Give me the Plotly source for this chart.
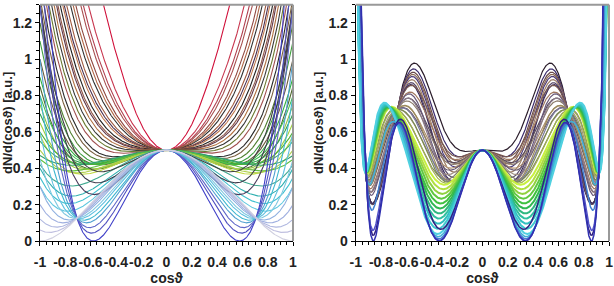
import numpy as np
import plotly.graph_objects as go

X_TICKS = [-1, -0.8, -0.6, -0.4, -0.2, 0, 0.2, 0.4, 0.6, 0.8, 1]
X_TICKTEXT = ["-1", "-0.8", "-0.6", "-0.4", "-0.2", "0", "0.2", "0.4", "0.6", "0.8", "1"]
Y_TICKS = [0, 0.2, 0.4, 0.6, 0.8, 1.0, 1.2]
Y_TICKTEXT = ["0", "0.2", "0.4", "0.6", "0.8", "1", "1.2"]

# Left panel curves: dN/dcos = 0.5 + a2*cos^2 + a4*cos^4 (coefficients)
LEFT_A2 = [3.6, 2.0, 1.6, 1.4, 1.1, 0.95, 0.8, 0.6, 0.5, 0.4, 0.25, 0.15, 0.1, 0.0, -0.1, -0.2, -0.3, -0.45, -0.5,
           -0.55, -0.6, -0.6, -0.55, -0.65, -0.5, -0.6, -0.45, -0.55, -0.4, -0.6, -0.35, -0.5, -0.3, -0.4, -0.7, -0.9,
           -1.0, -1.1, -1.2, -0.9, -1.5,
           -3.0, -2.6, -2.3, -2.0, -1.8, -1.6, -1.45, -1.3, -1.2, -1.12, -1.06, -1.0]
LEFT_A4 = [-1.6, 0.21, 0.54, 0.71, 0.86, 0.93, 1.01, 1.09, 1.10, 1.17, 1.25, 1.26, 1.26, 1.275, 1.29, 1.30, 1.315,
           1.38, 1.34,
           1.25, 1.2, 1.1, 0.95, 1.0, 0.8, 0.85, 0.65, 0.7, 0.5, 0.68, 0.4, 0.5, 0.27, 0.35, 0.62, 0.8, 0.85, 0.9,
           2.0, 1.7, 2.3,
           4.5, 3.7, 3.1, 2.5, 2.1, 1.7, 1.4, 1.1, 0.9, 0.74, 0.62, 0.5]
LEFT_COLORS = ["#d0103a", "#c83850", "#b04050", "#a85050", "#904840", "#b06848", "#303030", "#a05a40", "#4a3050",
               "#c07a50", "#202020", "#905848", "#603848", "#b07040", "#383838", "#6a7a30", "#a05050", "#2a2a2a",
               "#7a6040",
               "#508030", "#40a040", "#6a5a3a", "#30b040", "#506a30", "#40c050", "#90c040", "#30a050", "#a0d040",
               "#50b030", "#c0d840", "#40b060", "#b0d050", "#30a070", "#60c040", "#40a890", "#30b0b0", "#40c0d0",
               "#60c8e0", "#3a3a4a", "#404040", "#4a3a5a",
               "#4040c8", "#5050c0", "#6068c8", "#50a0d0", "#40b8d0", "#60c0e0", "#80c8e0", "#90b0e0", "#a0b0e0",
               "#b0b8e0", "#c0c0e0", "#d0d0e0"]

# Right panel: five template shapes, polynomial coefficients in cos^2 (powers 0..7)
T_DARK = [0.50000, -0.99439, 34.23566, -120.41098, 97.57349, 127.85042, -247.51954, 111.08576]
T_PURPLE = [0.49999, -7.11355, 91.95343, -378.03785, 747.79905, -793.43647, 427.73407, -87.24835]
T_YELLOW = [0.50000, -5.06589, 43.97404, -145.28679, 253.44306, -224.29634, 62.64206, 16.40268]
T_CYAN = [0.50000, -8.62865, 49.65036, -77.49864, -71.74711, 388.96553, -473.45951, 194.53321]
T_BLUE = [0.50000, -10.00000, 61.66667, -116.66667, 68.05556, 0.0, 0.0, 0.0]

# mixture weights of each right-panel curve over (dark, purple, yellow, cyan, blue)
RIGHT_W = [
    [1, 0, 0, 0, 0], [0.75, 0.25, 0, 0, 0], [0.6, 0.4, 0, 0, 0], [0.5, 0.5, 0, 0, 0], [0.4, 0.6, 0, 0, 0],
    [0.25, 0.75, 0, 0, 0], [0.1, 0.9, 0, 0, 0], [0, 1, 0, 0, 0],
    [0.7, 0, 0.3, 0, 0], [0.6, 0, 0.4, 0, 0], [0.5, 0, 0.5, 0, 0], [0.45, 0, 0.55, 0, 0], [0.35, 0, 0.65, 0, 0],
    [0.3, 0, 0.7, 0, 0], [0.2, 0, 0.8, 0, 0], [0.1, 0, 0.9, 0, 0],
    [0, 0.8, 0.2, 0, 0], [0, 0.7, 0.3, 0, 0], [0, 0.5, 0.5, 0, 0], [0, 0.4, 0.6, 0, 0], [0, 0.3, 0.7, 0, 0],
    [0, 0.15, 0.85, 0, 0], [0, 0, 1, 0, 0],
    [0, 0, 0.9, 0.1, 0], [0, 0, 0.8, 0.2, 0], [0, 0, 0.7, 0.3, 0], [0, 0, 0.6, 0.4, 0], [0, 0, 0.5, 0.5, 0],
    [0, 0, 0.4, 0.6, 0], [0, 0, 0.3, 0.7, 0], [0, 0, 0.2, 0.8, 0], [0, 0, 0.1, 0.9, 0], [0, 0, 0, 1, 0],
    [0, 0, 0, 0.6, 0.4], [0, 0, 0, 0.3, 0.7], [0, 0.15, 0, 0, 0.85], [0, 0, 0, 0.1, 0.9], [0, 0, 0, 0, 1],
]
RIGHT_COLORS = ["#2b1d2b", "#3c2c6c", "#6a4a4a", "#8a6a55", "#4a3a7a", "#a08068", "#5a4a6a", "#3a2a5a",
                "#7a5a50", "#a07860", "#5a4a5a", "#8b7b6b", "#b09070", "#6a5a70", "#a09080", "#80806a",
                "#6a5a7a", "#8a7a8a", "#9a8a5a", "#7a7a9a", "#7a8a50", "#a0b050", "#c8f040",
                "#b0e040", "#90d040", "#60c840", "#40c040", "#30b850", "#30b880", "#30c0a0", "#30c0c0", "#40c8d0",
                "#50d0e0",
                "#40b0d8", "#4080d0", "#302080", "#5050c8", "#3030b0"]
RIGHT_WIDTHS = [1.2] * 22 + [2.0] * 11 + [1.5] * 5

TEMPLATES = np.array([T_DARK, T_PURPLE, T_YELLOW, T_CYAN, T_BLUE])

xs = np.linspace(-1, 1, 801)
us = xs * xs

fig = go.Figure()
for a2, a4, c in zip(LEFT_A2, LEFT_A4, LEFT_COLORS):
    fig.add_trace(go.Scatter(x=xs, y=0.5 + a2 * us + a4 * us ** 2, mode="lines",
                             line=dict(color=c, width=1.1), xaxis="x", yaxis="y", hoverinfo="skip"))
for wts, c, w in zip(RIGHT_W, RIGHT_COLORS, RIGHT_WIDTHS):
    coef = np.array(wts) @ TEMPLATES
    fig.add_trace(go.Scatter(x=xs, y=np.polynomial.polynomial.polyval(us, coef), mode="lines",
                             line=dict(color=c, width=w), xaxis="x2", yaxis="y2", hoverinfo="skip"))

FONT = "Liberation Sans, Arial, sans-serif"
ax_common = dict(range=[-1, 1], tickmode="array", tickvals=X_TICKS, ticktext=X_TICKTEXT, showline=True,
                 linecolor="black", linewidth=1, ticks="outside", ticklen=4, tickcolor="black", showgrid=False,
                 zeroline=False, tickfont=dict(family=FONT, size=14, color="#222", weight="bold"),
                 ticklabelstandoff=4, tickangle=0, automargin=False,
                 minor=dict(ticks="outside", ticklen=3, tickmode="linear", tick0=0, dtick=0.05,
                            tickcolor="black"),
                 title=dict(text="cosϑ", font=dict(family=FONT, size=14, color="#222", weight="bold"), standoff=7))
ay_common = dict(range=[0, 1.3], tickmode="array", tickvals=Y_TICKS, ticktext=Y_TICKTEXT, showline=True,
                 linecolor="black", linewidth=1, ticks="outside", ticklen=4, tickcolor="black", showgrid=False,
                 zeroline=False, tickfont=dict(family=FONT, size=14, color="#222", weight="bold"),
                 automargin=False,
                 minor=dict(ticks="outside", ticklen=3, tickmode="linear", tick0=0, dtick=0.05,
                            tickcolor="black"),
                 title=dict(text="dN/d(cosϑ) [a.u.]", font=dict(family=FONT, size=13, color="#222", weight="bold"),
                            standoff=1))
YDOM = [0.1573, 0.9836]
fig.update_layout(
    width=614, height=286, margin=dict(l=0, r=0, t=0, b=0), paper_bgcolor="white", plot_bgcolor="white",
    showlegend=False,
    xaxis=dict(domain=[0.0651, 0.4772], anchor="y", **ax_common),
    yaxis=dict(domain=YDOM, anchor="x", **ay_common),
    xaxis2=dict(domain=[0.5793, 0.9919], anchor="y2", **ax_common),
    yaxis2=dict(domain=YDOM, anchor="x2", **ay_common),
)
for xr, yr in [("x domain", "y domain"), ("x2 domain", "y2 domain")]:
    fig.add_shape(type="line", xref=xr, yref=yr, x0=0, x1=1, y0=1, y1=1, line=dict(color="#999", width=2))
    fig.add_shape(type="line", xref=xr, yref=yr, x0=1, x1=1, y0=0, y1=1, line=dict(color="#999", width=2))

fig.write_html("out.html")
